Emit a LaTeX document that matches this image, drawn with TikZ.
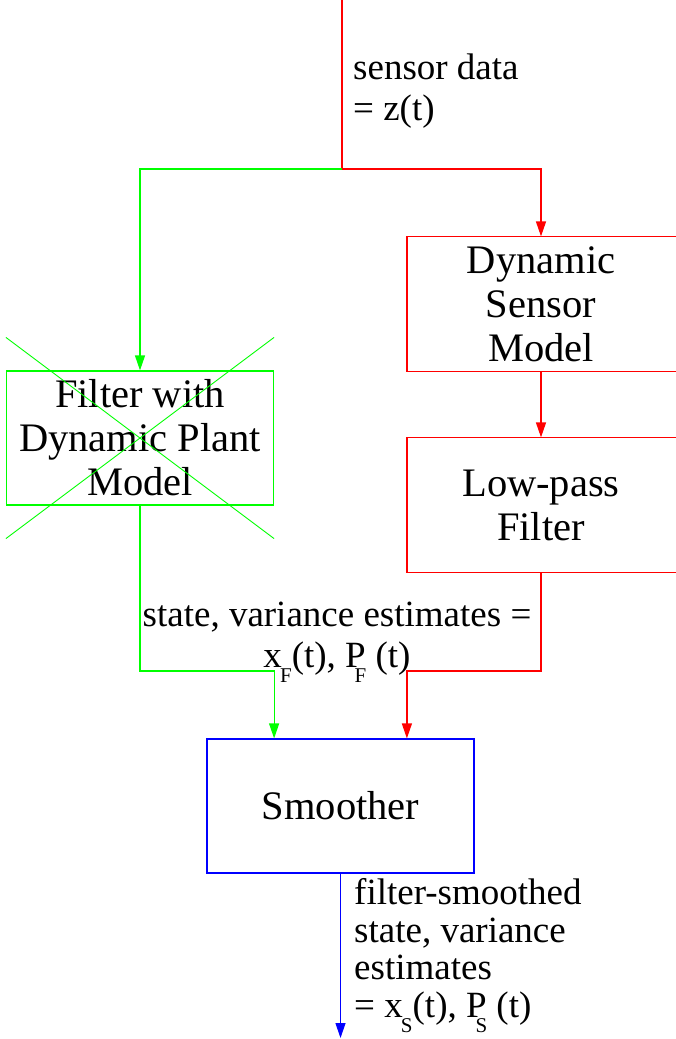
\documentclass[tikz,border=0pt]{standalone}
\usepackage{fontspec}
\setmainfont{Liberation Serif}
\usetikzlibrary{arrows.meta}
\newcommand\lowsub[1]{\raisebox{-0.42em}{\fontsize{21}{21}\selectfont #1}}
\begin{document}
\begin{tikzpicture}[x=1pt,y=-1pt,
  conn/.style={line width=1.2pt},
  arr/.style={conn,-{Triangle[width=10pt,length=15pt]}},
  box/.style={line width=1.2pt,minimum width=267pt,minimum height=134pt,inner sep=0pt,align=center,font=\fontsize{40.5}{44}\selectfont},
  lbl/.style={inner sep=0pt,font=\fontsize{37}{41}\selectfont}]
\useasboundingbox (0,0) rectangle (675,1039);
% boxes
\node[box,draw=green] (plant) at (140,438) {Filter with\\Dynamic Plant\\Model};
\node[box] (sensor) at (541,304) {Dynamic\\Sensor\\Model};
\node[box] (lowpass) at (541,505) {Low-pass\\Filter};
\node[box,draw=blue] (smoother) at (340.5,806) {Smoother};
% sensor-side boxes run past the right edge of the picture
\draw[red,line width=1.2pt] ([xshift=10pt]sensor.north east) -| (sensor.south west) -- ([xshift=10pt]sensor.south east);
\draw[red,line width=1.2pt] ([xshift=10pt]lowpass.north east) -| (lowpass.south west) -- ([xshift=10pt]lowpass.south east);
% cross over the plant filter
\draw[green,line width=0.9pt] ([yshift=33pt]plant.north west) -- ([yshift=-33pt]plant.south east);
\draw[green,line width=0.9pt] ([yshift=33pt]plant.north east) -- ([yshift=-33pt]plant.south west);
% connectors
\coordinate (top) at (342,0);
\coordinate (split) at (342,169);
\coordinate (gb) at (140,671);
\coordinate (rb) at (541,671);
\coordinate (out) at (340.5,1038);
\draw[conn,red] (top) -- (split);
\draw[arr,green] (split) -| (plant.north);
\draw[arr,red] (split) -| (sensor.north);
\draw[arr,red] (sensor.south) -- (lowpass.north);
\draw[arr,green] (plant.south) -- (gb) -| (smoother.north -| plant.east);
\draw[arr,red] (lowpass.south) -- (rb) -| (smoother.north -| lowpass.west);
\draw[arr,blue] (smoother.south) -- (out);
% labels
\node[lbl,anchor=base west,align=left] (zlbl) at (353,120) {sensor data\\= z(t)};
\node[lbl,anchor=base,align=center] (flbl) at (337,667) {state, variance estimates =\\x\kern-0.05em\lowsub{F}(t), P\kern-0.3em\lowsub{F} (t)};
\node[lbl,anchor=base west,align=left,font=\fontsize{37}{37.5}\selectfont] (slbl) at (354,1017) {filter-smoothed\\state, variance\\estimates\\= x\kern-0.05em\lowsub{S}(t), P\kern-0.3em\lowsub{S} (t)};
\end{tikzpicture}
\end{document}
